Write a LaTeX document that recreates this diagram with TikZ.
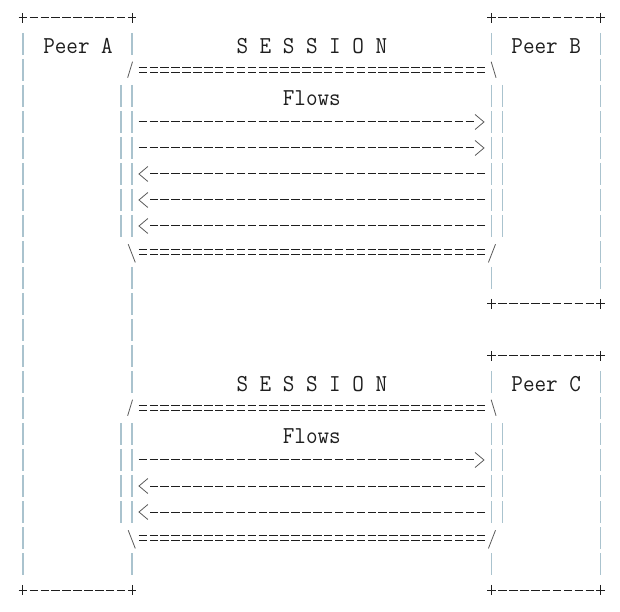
\documentclass[tikz,border=0pt]{standalone}
\usepackage{tikz}
\usetikzlibrary{positioning}

\definecolor{ink}{RGB}{30,30,30}
\definecolor{wallgray}{RGB}{170,195,206}
\definecolor{slashgray}{RGB}{90,90,90}

\begin{document}
\begin{tikzpicture}[
  x=10.9pt, y=-26pt,
  font=\ttfamily\fontsize{22.5}{27}\selectfont,
  lbl/.style={text=ink, inner sep=0pt, anchor=base, yscale=1.08, transform shape},
  wall/.style={draw=wallgray, line width=1.3pt, dash pattern=on 22pt off 4pt, dash phase=24pt},
  rule/.style={draw=ink, line width=1pt, dash pattern=on 8.5pt off 2.4pt, dash phase=9.7pt},
  eqrule/.style={rule, line width=0.8pt, double=white, double distance=4.2pt},
  corner/.style={draw=ink, line width=1pt},
  slash/.style={draw=slashgray, line width=0.8pt},
  flow/.style={rule},
  tip/.style={draw=slashgray, line width=0.8pt, solid},
  rhead/.pic={\draw[tip] (-0.82,-0.29) -- (0,0) -- (-0.82,0.29);},
  lhead/.pic={\draw[tip] (0.82,-0.29) -- (0,0) -- (0.82,0.29);}
]
  \useasboundingbox (-2.11,-0.692) rectangle (54.77,22.846);

  % Labels
  \node[lbl] (peerA) at (5.05,1.35) {Peer A};
  \node[lbl] (peerB) at (48,1.35) {Peer B};
  \node[lbl] (peerC) at (48,14.35) {Peer C};
  \node[lbl] (sess1) at (26.5,1.35) {S E S S I O N};
  \node[lbl] (flows1) at (26.5,3.35) {Flows};
  \node[lbl] (sess2) at (26.5,14.35) {S E S S I O N};
  \node[lbl] (flows2) at (26.5,16.35) {Flows};

  % Peer A box
  \draw[rule] (-0.5,0) -- (10.5,0);
  \draw[rule] (-0.5,22) -- (10.5,22);
  \draw[corner] (0,-0.2) -- (0,0.2) (10,-0.2) -- (10,0.2);
  \draw[corner] (0,21.8) -- (0,22.2) (10,21.8) -- (10,22.2);
  \draw[wall] (0,0.5) -- (0,21.5);
  \draw[wall] (10,0.5) -- (10,1.5) (10,2.5) -- (10,8.5) (10,9.5) -- (10,14.5)
              (10,15.5) -- (10,19.5) (10,20.5) -- (10,21.5);

  % Peer B box
  \draw[rule] (42.5,0) -- (53.5,0);
  \draw[rule] (42.5,11) -- (53.5,11);
  \draw[corner] (43,-0.2) -- (43,0.2) (53,-0.2) -- (53,0.2);
  \draw[corner] (43,10.8) -- (43,11.2) (53,10.8) -- (53,11.2);
  \draw[wall] (53,0.5) -- (53,10.5);
  \draw[wall] (43,0.5) -- (43,1.5) (43,2.5) -- (43,8.5) (43,9.5) -- (43,10.5);

  % Peer C box
  \draw[rule] (42.5,13) -- (53.5,13);
  \draw[rule] (42.5,22) -- (53.5,22);
  \draw[corner] (43,12.8) -- (43,13.2) (53,12.8) -- (53,13.2);
  \draw[corner] (43,21.8) -- (43,22.2) (53,21.8) -- (53,22.2);
  \draw[wall] (53,13.5) -- (53,21.5);
  \draw[wall] (43,13.5) -- (43,14.5) (43,15.5) -- (43,19.5) (43,20.5) -- (43,21.5);

  % Session A--B
  \draw[eqrule] (10.5,2) -- (42.5,2);
  \draw[eqrule] (10.5,9) -- (42.5,9);
  \draw[slash] (10.05,1.68) -- (9.6,2.3);
  \draw[slash] (42.95,1.68) -- (43.4,2.3);
  \draw[slash] (9.65,8.7) -- (10.3,9.4);
  \draw[slash] (43.35,8.7) -- (42.7,9.4);
  \draw[wall] (9,2.5) -- (9,8.5);
  \draw[wall] (44,2.5) -- (44,8.5);

  \draw[flow] (10.5,4) -- (41.5,4) ++(0.79,0) pic{rhead};
  \draw[flow] (10.5,5) -- (41.5,5) ++(0.79,0) pic{rhead};
  \draw[flow] (42.5,6) -- (11.5,6) ++(-0.86,0) pic{lhead};
  \draw[flow] (42.5,7) -- (11.5,7) ++(-0.86,0) pic{lhead};
  \draw[flow] (42.5,8) -- (11.5,8) ++(-0.86,0) pic{lhead};

  % Session A--C
  \draw[eqrule] (10.5,15) -- (42.5,15);
  \draw[eqrule] (10.5,20) -- (42.5,20);
  \draw[slash] (10.05,14.68) -- (9.6,15.3);
  \draw[slash] (42.95,14.68) -- (43.4,15.3);
  \draw[slash] (9.65,19.7) -- (10.3,20.4);
  \draw[slash] (43.35,19.7) -- (42.7,20.4);
  \draw[wall] (9,15.5) -- (9,19.5);
  \draw[wall] (44,15.5) -- (44,19.5);

  \draw[flow] (10.5,17) -- (41.5,17) ++(0.79,0) pic{rhead};
  \draw[flow] (42.5,18) -- (11.5,18) ++(-0.86,0) pic{lhead};
  \draw[flow] (42.5,19) -- (11.5,19) ++(-0.86,0) pic{lhead};
\end{tikzpicture}
\end{document}
